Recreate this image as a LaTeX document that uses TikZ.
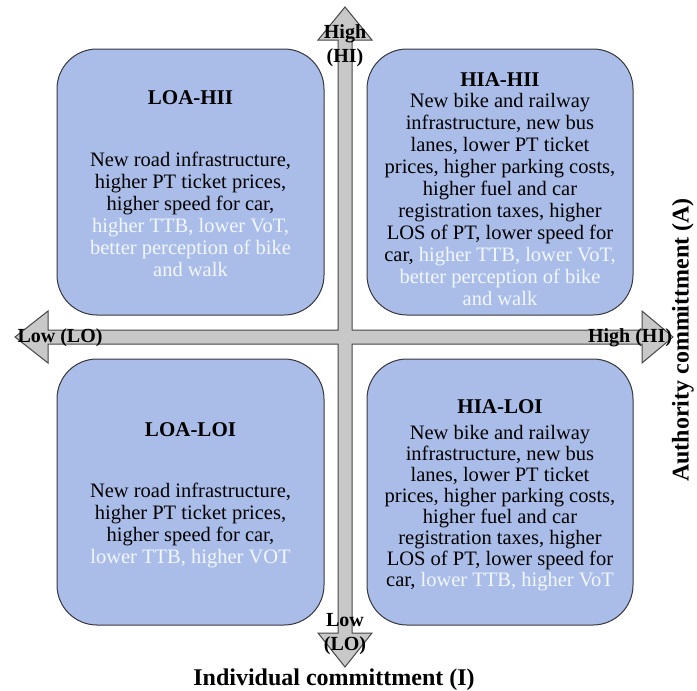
\documentclass[tikz,border=0pt]{standalone}
\usepackage{fontspec}
\setmainfont{Liberation Serif}
\definecolor{boxfill}{RGB}{170,189,233}
\definecolor{boxline}{RGB}{55,55,60}
\definecolor{lite}{RGB}{242,246,253}
\definecolor{axisfill}{RGB}{200,200,200}
\definecolor{axisline}{RGB}{70,70,70}
\tikzset{
  quad/.style={draw=boxline, line width=1pt, fill=boxfill, rounded corners=40pt},
  qtitle/.style={font=\fontsize{21}{24}\selectfont\bfseries, text=black, inner sep=0pt},
  qbody/.style={font=\fontsize{20.5}{22}\selectfont, text=black, align=center, inner sep=0pt},
  axlab/.style={font=\fontsize{20}{24}\selectfont\bfseries, align=center, inner sep=0pt},
  bigax/.style={font=\fontsize{24}{28}\selectfont\bfseries, inner sep=0pt}
}
\begin{document}
\begin{tikzpicture}[x=1pt,y=-1pt]
\useasboundingbox (0,0) rectangle (697,691);
% axes (double arrows crossing)
\draw[fill=axisfill, draw=axisline, line width=1pt, line join=miter]
 (345,7) -- (372,40) -- (352,40) -- (352,330) -- (642,330) -- (642,311) -- (673,337)
 -- (642,363) -- (642,344) -- (352,344) -- (352,633) -- (372,633) -- (345,667)
 -- (318,633) -- (338,633) -- (338,344) -- (48,344) -- (48,363) -- (15,337)
 -- (48,311) -- (48,330) -- (338,330) -- (338,40) -- (318,40) -- cycle;
% quadrant boxes
\draw[quad] (57,49) rectangle (324,315);
\draw[quad] (367,49) rectangle (633,315);
\draw[quad] (57,359) rectangle (324,625);
\draw[quad] (367,359) rectangle (633,625);
% top-left
\node[qtitle] (tlt) at (190.5,98) {LOA-HII};
\node[qbody] (tlb) at (190.5,214) {New road infrastructure,\\higher PT ticket prices,\\higher speed for car,\\\textcolor{lite}{higher TTB, lower VoT,}\\\textcolor{lite}{better perception of bike}\\\textcolor{lite}{and walk}};
% top-right
\node[qtitle] (trt) at (500,80) {HIA-HII};
\node[qbody] (trb) at (500,199.5) {New bike and railway\\infrastructure, new bus\\lanes, lower PT ticket\\prices, higher parking costs,\\higher fuel and car\\registration taxes, higher\\LOS of PT, lower speed for\\car, \textcolor{lite}{higher TTB, lower VoT,}\\\textcolor{lite}{better perception of bike}\\\textcolor{lite}{and walk}};
% bottom-left
\node[qtitle] (blt) at (190.5,430) {LOA-LOI};
\node[qbody] (blb) at (190.5,525) {New road infrastructure,\\higher PT ticket prices,\\higher speed for car,\\\textcolor{lite}{lower TTB, higher VOT}};
% bottom-right
\node[qtitle] (brt) at (500,407) {HIA-LOI};
\node[qbody, font=\fontsize{20.5}{21}\selectfont] (brb) at (500,508) {New bike and railway\\infrastructure, new bus\\lanes, lower PT ticket\\prices, higher parking costs,\\higher fuel and car\\registration taxes, higher\\LOS of PT, lower speed for\\car, \textcolor{lite}{lower TTB, higher VoT}};
% axis labels
\node[axlab] (hiTop) at (345,46) {High\\(HI)};
\node[axlab] (loBot) at (345,634) {Low\\(LO)};
\node[axlab] (loLeft) at (60,338) {Low (LO)};
\node[axlab] (hiRight) at (630,338) {High (HI)};
\node[bigax] (xlab) at (334,680) {Individual committment (I)};
\node[bigax, rotate=90] (ylab) at (683,340) {Authority committment (A)};
\end{tikzpicture}
\end{document}
